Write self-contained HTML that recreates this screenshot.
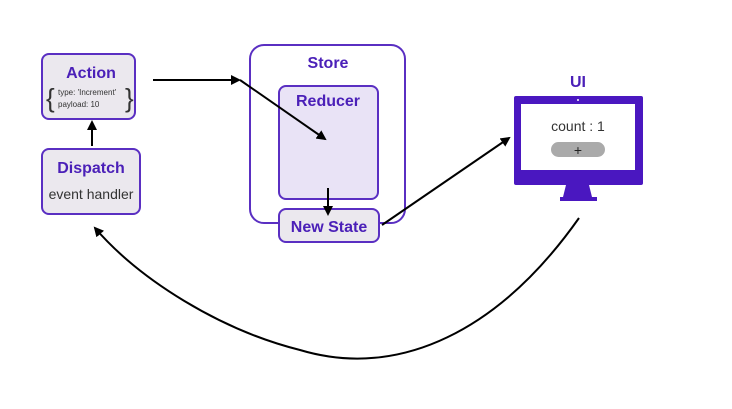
<!DOCTYPE html>
<html><head><style>
body{margin:0;background:#fff;width:732px;height:404px;overflow:hidden;font-family:"Liberation Sans",sans-serif}
</style></head><body>
<svg width="732" height="404" xmlns="http://www.w3.org/2000/svg">
<defs><marker id="a" markerWidth="10" markerHeight="10" refX="8" refY="5" orient="auto" markerUnits="userSpaceOnUse"><path d="M0,0 L10,5 L0,10 z" fill="#000"/></marker></defs>
<rect x="42" y="54" width="93" height="65" rx="7" fill="#ebe8ee" stroke="#5a2fc2" stroke-width="2"/>
<text x="91" y="78" text-anchor="middle" font-size="16" font-weight="bold" fill="#4b20b8">Action</text>
<text x="46" y="107" font-size="26" fill="#333">{</text>
<text x="125" y="107" font-size="26" fill="#333">}</text>
<text x="58" y="95" font-size="8" fill="#333">type: 'Increment'</text>
<text x="58" y="107" font-size="8" fill="#333">payload: 10</text>
<rect x="42" y="149" width="98" height="65" rx="7" fill="#ebe8ee" stroke="#5a2fc2" stroke-width="2"/>
<text x="91" y="173" text-anchor="middle" font-size="16" font-weight="bold" fill="#4b20b8">Dispatch</text>
<text x="91" y="199" text-anchor="middle" font-size="14" fill="#333">event handler</text>
<rect x="250" y="45" width="155" height="178" rx="14" fill="#fff" stroke="#5a2fc2" stroke-width="2"/>
<text x="328" y="68" text-anchor="middle" font-size="16" font-weight="bold" fill="#4b20b8">Store</text>
<rect x="279" y="86" width="99" height="113" rx="7" fill="#e9e3f6" stroke="#5a2fc2" stroke-width="2"/>
<text x="328" y="106" text-anchor="middle" font-size="16" font-weight="bold" fill="#4b20b8">Reducer</text>
<rect x="279" y="209" width="100" height="33" rx="7" fill="#ebe8ee" stroke="#5a2fc2" stroke-width="2"/>
<text x="329" y="232" text-anchor="middle" font-size="16" font-weight="bold" fill="#4b20b8">New State</text>
<text x="578" y="87" text-anchor="middle" font-size="16" font-weight="bold" fill="#4b20b8">UI</text>
<rect x="514" y="96" width="129" height="89" rx="2" fill="#4a17c0"/>
<rect x="521" y="104" width="114" height="66" fill="#fff"/>
<circle cx="578" cy="100" r="1" fill="#fff"/>
<path d="M566,185 L589,185 L592,197 L563,197 z" fill="#4a17c0"/>
<rect x="560" y="197" width="37" height="4" fill="#4a17c0"/>
<text x="578" y="131" text-anchor="middle" font-size="14" fill="#333">count : 1</text>
<rect x="551" y="142" width="54" height="15" rx="7.5" fill="#aaa"/>
<text x="578" y="155" text-anchor="middle" font-size="14" fill="#222">+</text>
<g stroke="#000" stroke-width="2" fill="none">
<line x1="153" y1="80" x2="239" y2="80" marker-end="url(#a)"/>
<line x1="240" y1="80" x2="325" y2="139" marker-end="url(#a)"/>
<line x1="328" y1="188" x2="328" y2="214" marker-end="url(#a)"/>
<line x1="92" y1="146" x2="92" y2="122" marker-end="url(#a)"/>
<line x1="382" y1="225" x2="509" y2="138" marker-end="url(#a)"/>
<path d="M579,218 C500,330 400,380 300,350 C220,330 140,280 95,228" marker-end="url(#a)"/>
</g>
</svg>
</body></html>
